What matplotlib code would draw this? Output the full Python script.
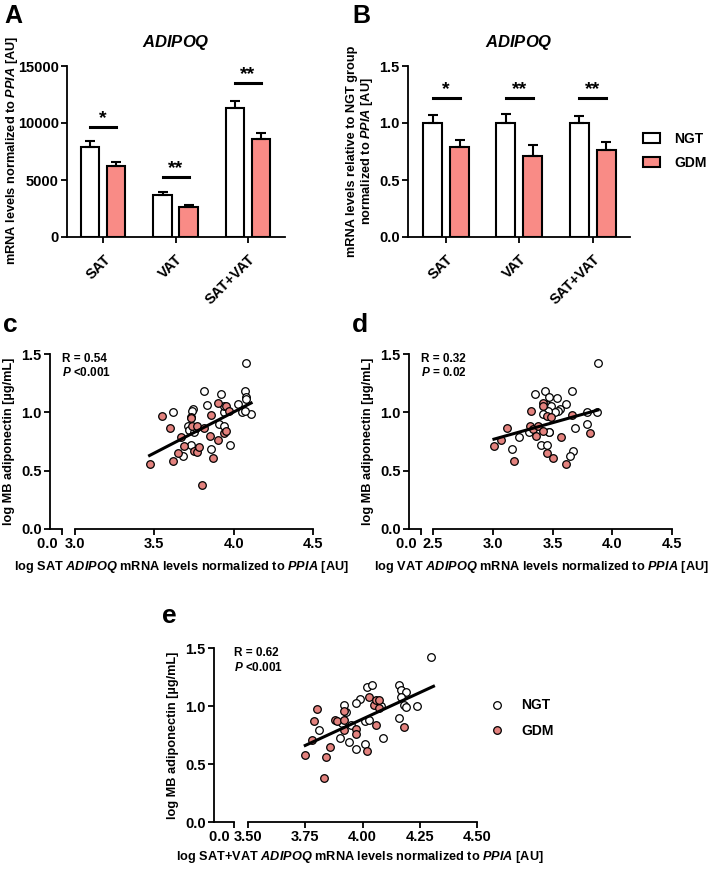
import numpy as np
import matplotlib
matplotlib.use('Agg')
import matplotlib.pyplot as plt
from matplotlib.patches import Patch
from matplotlib.lines import Line2D

plt.rcParams['font.family'] = ['Liberation Sans', 'DejaVu Sans']
plt.rcParams['font.weight'] = 'bold'
plt.rcParams['mathtext.fontset'] = 'custom'
plt.rcParams['mathtext.it'] = 'Liberation Sans:bold:italic'
plt.rcParams['mathtext.rm'] = 'Liberation Sans:bold'
plt.rcParams['mathtext.bf'] = 'Liberation Sans:bold'

# ---- bar data ----
tissues = ['SAT', 'VAT', 'SAT+VAT']
a_ngt = [7900, 3700, 11300]
a_ngt_err = [500, 250, 600]
a_gdm = [6250, 2600, 8600]
a_gdm_err = [350, 250, 550]
a_sig = ['*', '**', '**']
a_sig_y = [9650, 5250, 13500]

b_ngt = [1.0, 1.0, 1.0]
b_ngt_err = [0.07, 0.08, 0.06]
b_gdm = [0.79, 0.71, 0.76]
b_gdm_err = [0.06, 0.10, 0.07]
b_sig = ['*', '**', '**']
b_sig_y = [1.22, 1.22, 1.22]

# ---- scatter data ----
c_ngt_x = [4.08, 3.81, 3.92, 4.07, 4.08, 4.08, 3.62, 3.745, 3.74, 3.83, 4.03, 4.05, 4.11, 4.07, 3.94,
           3.94, 3.71, 3.72, 3.75, 3.76, 3.91, 3.94, 3.73, 3.68, 3.86, 3.975]
c_ngt_y = [1.42, 1.18, 1.16, 1.18, 1.135, 1.115, 1.00, 1.03, 1.01, 1.06, 1.07, 1.00, 0.99, 1.01, 1.00,
           1.05, 0.88, 0.85, 0.835, 0.865, 0.90, 0.885, 0.72, 0.63, 0.69, 0.72]
c_gdm_x = [3.47, 3.55, 3.60, 3.67, 3.69, 3.65, 3.62, 3.73, 3.73, 3.74, 3.77, 3.81, 3.75, 3.77, 3.78,
           3.80, 3.86, 3.90, 3.95, 3.97, 3.85, 3.90, 3.94, 3.95, 3.87]
c_gdm_y = [0.56, 0.97, 0.87, 0.79, 0.71, 0.65, 0.58, 0.96, 0.95, 0.88, 0.88, 0.87, 0.67, 0.66, 0.70,
           0.38, 0.98, 1.08, 1.05, 1.01, 0.80, 0.76, 0.82, 0.84, 0.61]
c_line_x = [3.47, 4.11]
c_line_y = [0.63, 1.08]

d_ngt_x = [3.88, 3.35, 3.44, 3.47, 3.54, 3.66, 3.61, 3.45, 3.49, 3.56, 3.55, 3.52, 3.46, 3.42, 3.79,
           3.87, 3.69, 3.79, 3.22, 3.30, 3.47, 3.47, 3.16, 3.40, 3.45, 3.67, 3.65]
d_ngt_y = [1.42, 1.155, 1.18, 1.135, 1.12, 1.18, 1.07, 1.06, 1.05, 1.03, 1.01, 1.00, 1.01, 0.99, 1.00,
           1.00, 0.87, 0.90, 0.79, 0.83, 0.835, 0.83, 0.69, 0.72, 0.72, 0.67, 0.63]
d_gdm_x = [3.01, 3.07, 3.12, 3.18, 3.32, 3.31, 3.34, 3.38, 3.36, 3.42, 3.42, 3.45, 3.49, 3.42, 3.45,
           3.50, 3.57, 3.61, 3.66, 3.81]
d_gdm_y = [0.71, 0.76, 0.87, 0.58, 1.01, 0.88, 0.86, 0.88, 0.80, 1.08, 1.05, 0.97, 0.96, 0.84, 0.65,
           0.61, 0.79, 0.56, 0.98, 0.82]
d_line_x = [3.01, 3.88]
d_line_y = [0.77, 1.02]

e_ngt_x = [4.30, 4.02, 4.04, 4.16, 4.17, 4.19, 4.17, 3.99, 3.97, 3.92, 4.08, 4.18, 4.19, 4.24, 3.93,
           4.01, 4.03, 3.95, 3.91, 3.81, 3.90, 3.94, 3.97, 4.01, 4.09, 4.16]
e_ngt_y = [1.42, 1.16, 1.18, 1.18, 1.14, 1.12, 1.08, 1.06, 1.03, 1.01, 1.00, 1.01, 0.99, 1.00, 0.95,
           0.87, 0.88, 0.84, 0.85, 0.79, 0.72, 0.69, 0.63, 0.67, 0.72, 0.90]
e_gdm_x = [3.75, 3.78, 3.79, 3.80, 3.83, 3.84, 3.86, 3.88, 3.89, 3.92, 3.92, 3.92, 3.97, 3.97, 4.02,
           4.03, 4.05, 4.06, 4.07, 4.07, 4.06, 4.18]
e_gdm_y = [0.58, 0.71, 0.87, 0.97, 0.38, 0.56, 0.65, 0.88, 0.87, 0.96, 0.88, 0.79, 0.80, 0.76, 0.61,
           1.08, 1.01, 1.05, 1.05, 0.98, 0.84, 0.82]
e_line_x = [3.75, 4.31]
e_line_y = [0.66, 1.17]

BAR_RED = '#F98B86'
DOT_RED = '#E3827E'
W, H = 709, 872
TICK_FS = 10.5
LAB_FS = 9.2

fig = plt.figure(figsize=(W / 100, H / 100), dpi=100)


def rect(x0, x1, ytop, ybot):
    return [x0 / W, 1 - ybot / H, (x1 - x0) / W, (ybot - ytop) / H]


def fx(x):
    return x / W


def fy(y):
    return 1 - y / H


def style(ax):
    for s in ['top', 'right']:
        ax.spines[s].set_visible(False)
    for s in ['left', 'bottom']:
        ax.spines[s].set_linewidth(1.3)
    ax.tick_params(width=1.3, length=4, labelsize=TICK_FS, pad=2)


def bar_panel(box, ngt, ngt_err, gdm, gdm_err, sig, sig_y, ymax, yticks, ylabels, xlim, off, bw):
    ax = fig.add_axes(box)
    pos = np.arange(len(tissues))
    z = np.zeros(len(tissues))
    ekw = dict(elinewidth=1.5, capthick=1.5, ecolor='black')
    ax.bar(pos - off, ngt, bw, color='white', edgecolor='black', linewidth=1.5,
           yerr=[z, ngt_err], capsize=3.5, error_kw=ekw)
    ax.bar(pos + off, gdm, bw, color=BAR_RED, edgecolor='black', linewidth=1.5,
           yerr=[z, gdm_err], capsize=3.5, error_kw=ekw)
    for i in range(len(tissues)):
        ax.plot([pos[i] - off, pos[i] + off], [sig_y[i], sig_y[i]], color='black', lw=2.2)
        ax.text(pos[i], sig_y[i], sig[i], ha='center', va='bottom', fontsize=14, fontweight='bold')
    ax.set_xlim(*xlim)
    ax.set_ylim(0, ymax)
    ax.set_yticks(yticks)
    ax.set_yticklabels(ylabels, fontweight='bold')
    ax.set_xticks(pos)
    ax.set_xticklabels(tissues, rotation=45, ha='right', rotation_mode='anchor', fontweight='bold')
    style(ax)
    ax.tick_params(axis='x', length=4, pad=7)
    ax.set_title(r'$\mathit{ADIPOQ}$', fontsize=12, pad=14)
    return ax


axA = bar_panel(rect(67, 285, 66, 237), a_ngt, a_ngt_err, a_gdm, a_gdm_err, a_sig, a_sig_y, 15000,
                [0, 5000, 10000, 15000], ['0', '5000', '10000', '15000'], (-0.5, 2.51), 0.18, 0.255)
fig.text(fx(12), fy(150), r'mRNA levels normalized to $\mathit{PPIA}$ [AU]', rotation=90,
         ha='center', va='center', fontsize=LAB_FS, fontweight='bold')

axB = bar_panel(rect(408, 630, 66, 237), b_ngt, b_ngt_err, b_gdm, b_gdm_err, b_sig, b_sig_y, 1.5,
                [0, 0.5, 1.0, 1.5], ['0.0', '0.5', '1.0', '1.5'], (-0.52, 2.51), 0.185, 0.26)
axB.set_ylabel('mRNA levels relative to NGT group\n' + r'normalized to $\mathit{PPIA}$ [AU]',
               fontsize=LAB_FS, fontweight='bold', labelpad=3, linespacing=1.1)

fig.legend(handles=[Patch(facecolor='white', edgecolor='black', linewidth=1.5, label='NGT'),
                    Patch(facecolor=BAR_RED, edgecolor='black', linewidth=1.5, label='GDM')],
           loc='center left', bbox_to_anchor=(fx(643), fy(151)), frameon=False,
           borderaxespad=0, borderpad=0,
           prop={'weight': 'bold', 'size': 10}, handlelength=1.25, handleheight=0.7,
           handletextpad=1.0, labelspacing=0.75)


def scatter_panel(nx0, nx1, mx0, mx1, ytop, ybot, ngt_x, ngt_y, gdm_x, gdm_y, lx, ly,
                  xmin, xmax, xt, xtl, rtxt, ptxt):
    n_w = (nx1 - nx0)
    px_per_unit = (mx1 - mx0) / (xmax - xmin)
    axn = fig.add_axes(rect(nx0, nx1, ytop, ybot))
    axm = fig.add_axes(rect(mx0, mx1, ytop, ybot), sharey=axn)
    axn.set_xlim(-n_w / px_per_unit, 0)
    axn.set_xticks([0])
    axn.set_xticklabels(['0.0 '], fontweight='bold', ha='right')
    axn.set_ylim(0, 1.5)
    axn.set_yticks([0, 0.5, 1.0, 1.5])
    axn.set_yticklabels(['0.0', '0.5', '1.0', '1.5'], fontweight='bold')
    style(axn)
    axn.set_ylabel(r'log MB adiponectin [µg/mL]', fontsize=LAB_FS, fontweight='bold', labelpad=4)

    axm.scatter(ngt_x, ngt_y, s=30, facecolor='white', edgecolor='black', linewidth=0.9, zorder=3)
    axm.scatter(gdm_x, gdm_y, s=30, facecolor=DOT_RED, edgecolor='black', linewidth=0.9, zorder=3)
    axm.plot(lx, ly, color='black', lw=2.2, zorder=4)
    axm.set_xlim(xmin, xmax)
    axm.set_xticks(xt)
    axm.set_xticklabels(xtl, fontweight='bold')
    style(axm)
    axm.spines['left'].set_visible(False)
    axm.tick_params(axis='y', left=False, labelleft=False)

    fig.text(fx(nx1), fy(ytop + 5), rtxt, fontsize=8.5, fontweight='bold', va='center')
    fig.text(fx(nx1), fy(ytop + 19), ptxt, fontsize=8.5, fontweight='bold', va='center')
    return axn, axm


scatter_panel(50, 62, 75, 313, 354, 529, c_ngt_x, c_ngt_y, c_gdm_x, c_gdm_y,
              c_line_x, c_line_y, 3.0, 4.5, [3.0, 3.5, 4.0, 4.5], ['3.0', '3.5', '4.0', '4.5'],
              'R = 0.54', r'$\mathit{P}$ <0.001')
fig.text(fx(181), fy(567), r'log SAT $\mathit{ADIPOQ}$ mRNA levels normalized to $\mathit{PPIA}$ [AU]',
         ha='center', va='center', fontsize=LAB_FS, fontweight='bold')

scatter_panel(409, 421, 433, 672, 354, 529, d_ngt_x, d_ngt_y, d_gdm_x, d_gdm_y,
              d_line_x, d_line_y, 2.5, 4.5, [2.5, 3.0, 3.5, 4.0, 4.5],
              ['2.5', '3.0', '3.5', '4.0', '4.5'],
              'R = 0.32', r'$\mathit{P}$ = 0.02')
fig.text(fx(541), fy(567), r'log VAT $\mathit{ADIPOQ}$ mRNA levels normalized to $\mathit{PPIA}$ [AU]',
         ha='center', va='center', fontsize=LAB_FS, fontweight='bold')

scatter_panel(214, 234, 248, 477, 648, 822, e_ngt_x, e_ngt_y, e_gdm_x, e_gdm_y,
              e_line_x, e_line_y, 3.5, 4.5, [3.5, 3.75, 4.0, 4.25, 4.5],
              ['3.50', '3.75', '4.00', '4.25', '4.50'],
              'R = 0.62', r'$\mathit{P}$ <0.001')
fig.text(fx(360), fy(857), r'log SAT+VAT $\mathit{ADIPOQ}$ mRNA levels normalized to $\mathit{PPIA}$ [AU]',
         ha='center', va='center', fontsize=LAB_FS, fontweight='bold')

fig.legend(handles=[Line2D([], [], marker='o', ls='none', markersize=5.5, markerfacecolor='white',
                           markeredgecolor='black', markeredgewidth=0.9, label='NGT'),
                    Line2D([], [], marker='o', ls='none', markersize=5.5, markerfacecolor=DOT_RED,
                           markeredgecolor='black', markeredgewidth=0.9, label='GDM')],
           loc='center left', bbox_to_anchor=(fx(485), fy(718)), frameon=False,
           borderaxespad=0, borderpad=0,
           prop={'weight': 'bold', 'size': 10}, handlelength=1.7, handletextpad=0.9, labelspacing=0.8)

# panel letters
fig.text(fx(4), fy(16), 'A', fontsize=18, fontweight='bold', va='center')
fig.text(fx(352), fy(16), 'B', fontsize=18, fontweight='bold', va='center')
fig.text(fx(3), fy(325), 'c', fontsize=19, fontweight='bold', va='center')
fig.text(fx(352), fy(325), 'd', fontsize=19, fontweight='bold', va='center')
fig.text(fx(162), fy(616), 'e', fontsize=19, fontweight='bold', va='center')

fig.savefig('out.png', dpi=100)
